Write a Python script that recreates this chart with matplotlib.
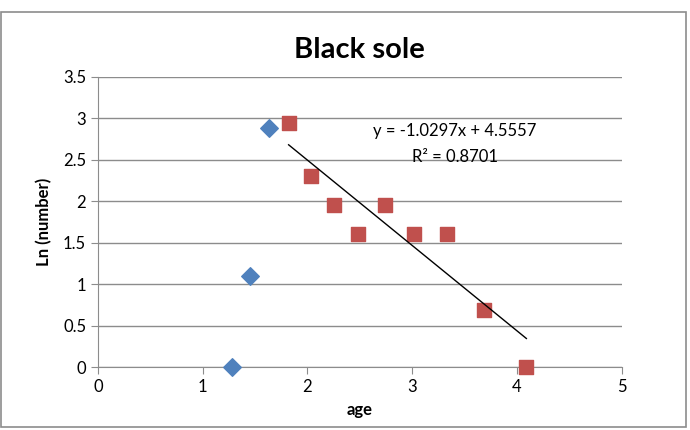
import matplotlib.pyplot as plt
from matplotlib.patches import Rectangle

plt.rcParams['font.family'] = ['Lato', 'DejaVu Sans']

# early ages (not in fit)
age_young = [1.28, 1.45, 1.63]
ln_young = [0.0, 1.10, 2.89]
# ages used for the regression
age_fit = [1.82, 2.03, 2.25, 2.48, 2.74, 3.02, 3.33, 3.69, 4.09]
ln_fit = [2.94, 2.30, 1.95, 1.61, 1.95, 1.61, 1.61, 0.69, 0.0]
slope, intercept, r2 = -1.0297, 4.5557, 0.8701

fig = plt.figure(figsize=(6.9, 4.3), dpi=100)
ax = fig.add_axes([0.142, 0.1465, 0.759, 0.6745])

fig.patches.append(Rectangle((0.002, 0.007), 0.992, 0.965, transform=fig.transFigure,
                             fill=False, edgecolor='#8c8c8c', linewidth=1.2))

ax.scatter(age_young, ln_young, marker='D', s=80, color='#4F81BD', zorder=3, clip_on=False)
ax.scatter(age_fit, ln_fit, marker='s', s=110, color='#C0504D', zorder=3, clip_on=False)

x0, x1 = age_fit[0], age_fit[-1]
ax.plot([x0, x1], [slope * x0 + intercept, slope * x1 + intercept], color='black', lw=1, zorder=4)

fig.text(0.659, 0.695, 'y = -1.0297x + 4.5557', ha='center', va='center', fontsize=12)
fig.text(0.659, 0.635, 'R² = 0.8701', ha='center', va='center', fontsize=12)

ax.set_xlim(0, 5)
ax.set_ylim(0, 3.5)
ax.set_xticks([0, 1, 2, 3, 4, 5])
ax.set_yticks([0, 0.5, 1, 1.5, 2, 2.5, 3, 3.5])
ax.set_yticklabels(['0', '0.5', '1', '1.5', '2', '2.5', '3', '3.5'])
ax.grid(axis='y', color='#8c8c8c', lw=1)
ax.set_axisbelow(True)
for s in ['top', 'right']:
    ax.spines[s].set_visible(False)
for s in ['left', 'bottom']:
    ax.spines[s].set_color('#8c8c8c')
ax.tick_params(colors='#8c8c8c', labelcolor='black', labelsize=12, length=5, direction='out')

ax.set_title('Black sole', fontsize=21, fontweight='bold', pad=14)
ax.set_xlabel('age', fontsize=12, fontweight='bold', labelpad=5)
ax.set_ylabel('Ln (number)', fontsize=12, fontweight='bold', labelpad=8)

fig.savefig('out.png', dpi=100)
